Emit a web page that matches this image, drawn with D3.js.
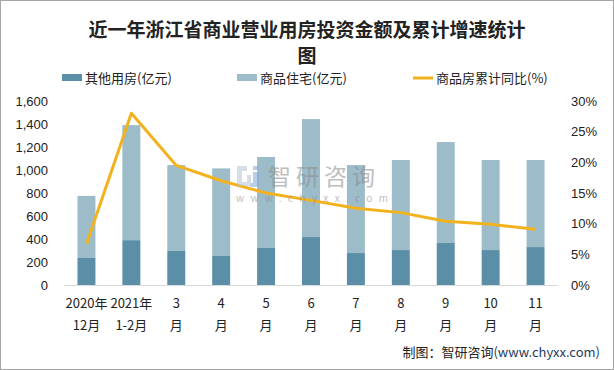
<!DOCTYPE html>
<html>
<head>
<meta charset="utf-8">
<script src="https://cdn.jsdelivr.net/npm/d3@7"></script>
<style>
  body { margin: 0; background: #fff; }
  svg text { font-family: "Noto Sans CJK SC", "Liberation Sans", sans-serif; fill: #222; }
</style>
</head>
<body>
<svg id="chart"></svg>
<script>
// chart data
const categories = ['2020年12月', '2021年1-2月', '3月', '4月', '5月', '6月', '7月', '8月', '9月', '10月', '11月'];
const labelLines = [['2020年', '12月'], ['2021年', '1-2月'], ['3', '月'], ['4', '月'], ['5', '月'], ['6', '月'], ['7', '月'], ['8', '月'], ['9', '月'], ['10', '月'], ['11', '月']];
const otherValues = [235, 390, 296, 252, 322, 417, 278, 304, 365, 304, 330];
const residentialValues = [540, 1000, 747, 762, 791, 1026, 765, 783, 878, 783, 757];
const growthValues = [6.7, 28.0, 19.5, 17.0, 15.0, 13.8, 12.5, 11.8, 10.4, 9.9, 9.1];
const leftTicks = [0, 200, 400, 600, 800, 1000, 1200, 1400, 1600];
const rightTicks = [0, 5, 10, 15, 20, 25, 30];

const config = {
  width: 614, height: 370,
  plotLeft: 64, plotRight: 558, plotTop: 101, plotBottom: 285,
  otherColor: '#5b8fa7', resColor: '#9dbcc9', lineColor: '#f2b21e'
};

const svg = d3.select('#chart')
  .attr('width', config.width)
  .attr('height', config.height);

// frame
svg.append('rect')
  .attr('x', 0.5).attr('y', 0.5)
  .attr('width', config.width - 1).attr('height', config.height - 1)
  .attr('fill', '#fff').attr('stroke', '#a6a6a6');

// title
const title = svg.append('text')
  .attr('text-anchor', 'middle')
  .style('font-size', '19px').style('font-weight', 'bold');
title.append('tspan').attr('x', 307).attr('y', 37).text('近一年浙江省商业营业用房投资金额及累计增速统计');
title.append('tspan').attr('x', 307).attr('y', 63).text('图');

// scales
const xScale = d3.scaleBand()
  .domain(categories)
  .range([config.plotLeft, config.plotRight])
  .paddingInner(0.6)
  .paddingOuter(0.3);

const yScale = d3.scaleLinear().domain([0, 1600]).range([config.plotBottom, config.plotTop]);
const y2Scale = d3.scaleLinear().domain([0, 30]).range([config.plotBottom, config.plotTop]);

// stacked bars
const stacked = categories.map((c, i) => ({
  cat: c, other: otherValues[i], res: residentialValues[i], growth: growthValues[i]
}));

svg.append('g').selectAll('rect')
  .data(stacked)
  .join('rect')
    .attr('x', d => xScale(d.cat))
    .attr('width', xScale.bandwidth())
    .attr('y', d => yScale(d.other))
    .attr('height', d => yScale(0) - yScale(d.other))
    .attr('fill', config.otherColor);

svg.append('g').selectAll('rect')
  .data(stacked)
  .join('rect')
    .attr('x', d => xScale(d.cat))
    .attr('width', xScale.bandwidth())
    .attr('y', d => yScale(d.other + d.res))
    .attr('height', d => yScale(d.other) - yScale(d.other + d.res))
    .attr('fill', config.resColor);

// x axis line
svg.append('line')
  .attr('x1', config.plotLeft).attr('x2', config.plotRight)
  .attr('y1', config.plotBottom + 0.5).attr('y2', config.plotBottom + 0.5)
  .attr('stroke', '#d9d9d9');

// growth line
const line = d3.line()
  .x(d => xScale(d.cat) + xScale.bandwidth() / 2)
  .y(d => y2Scale(d.growth));

svg.append('path')
  .datum(stacked)
  .attr('d', line)
  .attr('fill', 'none')
  .attr('stroke', config.lineColor)
  .attr('stroke-width', 3)
  .attr('stroke-linejoin', 'round');

// watermark (sits on top of the marks)
const wm = svg.append('g').attr('opacity', 0.55);
wm.append('path').attr('d', 'M237,166 h10 v5 h-5 v15 h-5 z').attr('fill', '#b8c4d6');
wm.append('path').attr('d', 'M247,175 h4 v11 h-9 v-4 h5 z').attr('fill', '#b8c4d6');
wm.append('rect').attr('x', 253).attr('y', 166).attr('width', 6).attr('height', 4).attr('fill', '#7fa7d8');
wm.append('path').attr('d', 'M253,172 h6 v12 q0,3 -3,3 h-6 v-4 h3 z').attr('fill', '#7fa7d8');
wm.append('text').attr('x', 268).attr('y', 185).style('font-size', '23px').style('fill', '#8a8a8a').style('letter-spacing', '5px').text('智研咨询');
wm.append('text').attr('x', 236).attr('y', 202).style('font-size', '10px').style('fill', '#8a8a8a').style('letter-spacing', '6.4px').text('www.chyxx.com');

// left axis
const yAxis = d3.axisLeft(yScale).tickValues(leftTicks).tickFormat(d3.format(',')).tickSize(0).tickPadding(0);
svg.append('g')
  .attr('transform', 'translate(48,0)')
  .call(yAxis)
  .call(g => g.select('.domain').remove())
  .selectAll('text')
    .style('font-size', '13px').style('font-family', 'Liberation Sans, sans-serif').attr('fill', '#222');

// right axis
const y2Axis = d3.axisRight(y2Scale).tickValues(rightTicks).tickFormat(d => d + '%').tickSize(0).tickPadding(0);
svg.append('g')
  .attr('transform', 'translate(571,0)')
  .call(y2Axis)
  .call(g => g.select('.domain').remove())
  .selectAll('text')
    .style('font-size', '13px').style('font-family', 'Liberation Sans, sans-serif').attr('fill', '#222');

// x labels
const xLabels = svg.append('g').selectAll('text')
  .data(categories)
  .join('text')
    .attr('text-anchor', 'middle')
    .style('font-size', '13px');
xLabels.append('tspan')
  .attr('x', d => xScale(d) + xScale.bandwidth() / 2)
  .attr('y', 308)
  .text((d, i) => labelLines[i][0]);
xLabels.append('tspan')
  .attr('x', d => xScale(d) + xScale.bandwidth() / 2)
  .attr('y', 330)
  .text((d, i) => labelLines[i][1]);

// legend
const legendItems = [
  { name: '其他用房(亿元)', type: 'rect', color: config.otherColor, x: 62 },
  { name: '商品住宅(亿元)', type: 'rect', color: config.resColor, x: 237 },
  { name: '商品房累计同比(%)', type: 'line', color: config.lineColor, x: 413 }
];
const legend = svg.append('g');
legendItems.forEach(d => {
  if (d.type === 'rect') {
    legend.append('rect').attr('x', d.x).attr('y', 74).attr('width', 20).attr('height', 7).attr('fill', d.color);
  } else {
    legend.append('line').attr('x1', d.x).attr('x2', d.x + 20).attr('y1', 78).attr('y2', 78)
      .attr('stroke', d.color).attr('stroke-width', 3);
  }
  legend.append('text').attr('x', d.x + 23).attr('y', 83).style('font-size', '13px').text(d.name);
});

// source note
const src = svg.append('text')
  .attr('x', 600).attr('y', 357)
  .attr('text-anchor', 'end')
  .style('font-size', '13px');
src.append('tspan').text('制图：智研咨询');
src.append('tspan').style('fill', '#1f3a60').text('(www.chyxx.com)');
</script>
</body>
</html>
